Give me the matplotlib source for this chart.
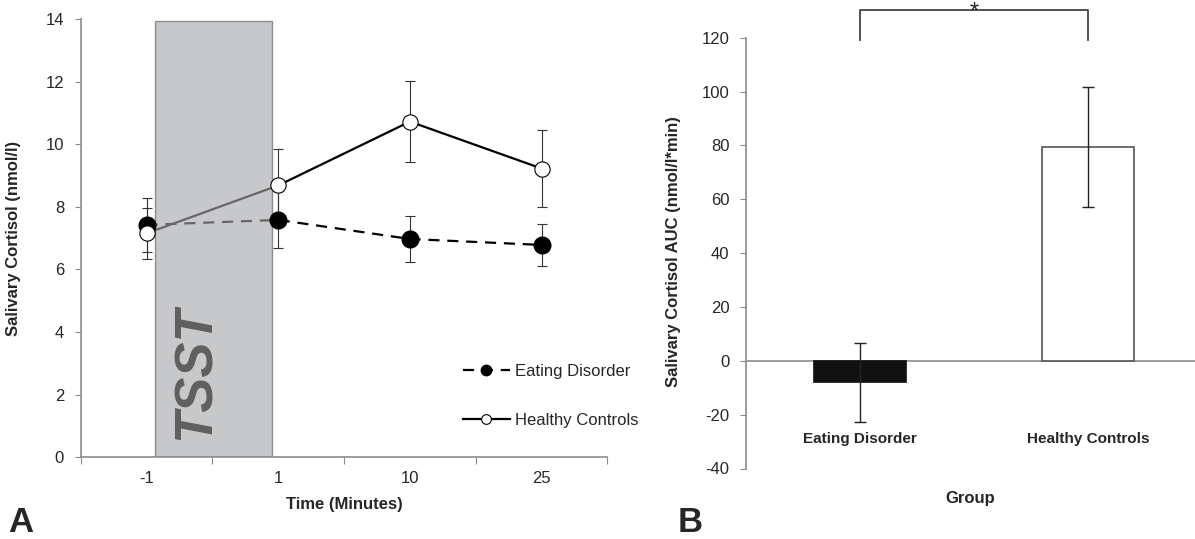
import matplotlib
matplotlib.use('Agg')
import matplotlib.pyplot as plt
from matplotlib.patches import Rectangle
from matplotlib.lines import Line2D

plt.rcParams['font.family'] = ['Liberation Sans', 'DejaVu Sans']
plt.rcParams['axes.unicode_minus'] = False

# Panel A: cortisol over time
time_labels = ['-1', '1', '10', '25']
ed_mean = [7.42, 7.58, 6.97, 6.78]
ed_err = [0.85, 0.91, 0.75, 0.68]
hc_mean = [7.15, 8.68, 10.72, 9.22]
hc_err = [0.81, 1.16, 1.30, 1.24]

# Panel B: AUC
groups = ['Eating Disorder', 'Healthy Controls']
auc_mean = [-7.9, 79.4]
auc_err = [14.7, 22.4]

TXT = '#262626'
AX = '#8c8c8c'
W, H = 1195, 539

fig = plt.figure(figsize=(W / 100, H / 100), dpi=100)

# ============ Panel A ============
axA = fig.add_axes([80.7 / W, 1 - 457.2 / H, (607.5 - 80.7) / W, (457.2 - 18.9) / H])
x = list(range(len(time_labels)))

# lines under the TSST box
axA.plot(x, ed_mean, color='black', lw=1.6, ls=(0, (5, 3.5)), zorder=1)
axA.plot(x, hc_mean, color='black', lw=1.6, zorder=1)

axA.add_patch(Rectangle((0.064, 0), 0.95 - 0.064, 13.92, facecolor=(0.65, 0.655, 0.665),
                        edgecolor='#5a5a5a', lw=1.0, alpha=0.62, zorder=2))
axA.text(0.37, 2.69, 'TSST', rotation=90, fontsize=38, fontweight='bold', style='italic',
         color='#5f5f5f', ha='center', va='center', zorder=4)

axA.errorbar(x, ed_mean, yerr=ed_err, fmt='o', ms=12, color='black', mfc='black',
             ecolor='#333333', elinewidth=0.8, capsize=3.3, capthick=0.8, zorder=3)
axA.errorbar(x, hc_mean, yerr=hc_err, fmt='o', ms=11, mfc='white', mec='black', mew=0.8,
             ecolor='#333333', elinewidth=0.8, capsize=3.3, capthick=0.8, zorder=3)

axA.set_xlim(-0.5, 3.5)
axA.set_ylim(0, 14)
axA.set_yticks(range(0, 15, 2))
axA.set_xticks([-0.5, 0.5, 1.5, 2.5, 3.5])
axA.set_xticklabels([])
axA.set_xticks(x, minor=True)
axA.set_xticklabels(time_labels, minor=True)
axA.tick_params(axis='x', which='major', length=5, color=AX, direction='out')
axA.tick_params(axis='x', which='minor', length=0, pad=10, labelsize=12, labelcolor=TXT)
axA.tick_params(axis='y', length=4, color=AX, pad=8, labelsize=12, labelcolor=TXT)
for s in ['top', 'right']:
    axA.spines[s].set_visible(False)
for s in ['left', 'bottom']:
    axA.spines[s].set_color(AX)
    axA.spines[s].set_linewidth(1.2)

axA.set_xlabel('Time (Minutes)', fontsize=12, fontweight='bold', color=TXT, labelpad=8)
axA.set_ylabel('Salivary Cortisol (nmol/l)', fontsize=12, fontweight='bold', color=TXT)
axA.yaxis.set_label_coords(-0.113, 0.5)

handles = [Line2D([], [], color='black', lw=1.6, ls=(0, (5, 3.5)), marker='o', ms=7.5,
                  mfc='black', mec='black'),
           Line2D([], [], color='black', lw=1.6, marker='o', ms=7, mfc='white', mec='black',
                  mew=0.8)]
fig.legend(handles, groups, loc='upper left', bbox_to_anchor=(463 / W, 1 - 364 / H),
           frameon=False, fontsize=12, handlelength=2.8, handletextpad=0.3,
           labelspacing=2.05, borderpad=0, borderaxespad=0, labelcolor=TXT)

fig.text(8 / W, 7 / H, 'A', fontsize=25, fontweight='bold', color=TXT, va='baseline')

# ============ Panel B ============
axB = fig.add_axes([746 / W, 1 - 468.5 / H, (W - 746) / W, (468.5 - 37.8) / H])
xb = list(range(len(groups)))
axB.bar(xb, auc_mean, width=0.4, color=['#111111', 'white'],
        edgecolor=['#111111', '#555555'], lw=1.2, zorder=2)
axB.errorbar(xb, auc_mean, yerr=auc_err, fmt='none', ecolor='#222222', elinewidth=1.0,
             capsize=4.5, capthick=1.0, zorder=3)
axB.axhline(0, color=AX, lw=1.2, zorder=1)

axB.set_xlim(-0.5, (W - 746) / 228 - 0.5)
axB.set_ylim(-40, 120)
axB.set_yticks(range(-40, 121, 20))
axB.set_xticks([])
axB.tick_params(axis='y', length=4, color=AX, pad=8, labelsize=12, labelcolor=TXT)
for s in ['top', 'right', 'bottom']:
    axB.spines[s].set_visible(False)
axB.spines['left'].set_color(AX)
axB.spines['left'].set_linewidth(1.2)

for i, g in enumerate(groups):
    axB.text(i, -29, g, ha='center', va='center', fontsize=11, fontweight='bold', color=TXT)

axB.set_xlabel('Group', fontsize=12, fontweight='bold', color=TXT, labelpad=16)
axB.set_ylabel('Salivary Cortisol AUC (nmol/l*min)', fontsize=12, fontweight='bold', color=TXT)
axB.yaxis.set_label_coords(-0.145, 0.503)

# significance bracket
axB.plot([0, 0, 1, 1], [119, 130.5, 130.5, 119], color='#444444', lw=1.3, clip_on=False)
axB.text(0.5, 127.0, '*', ha='center', va='baseline', fontsize=17, color=TXT, clip_on=False)

fig.text(678 / W, 7 / H, 'B', fontsize=25, fontweight='bold', color=TXT, va='baseline')

fig.savefig('out.png', dpi=100)
